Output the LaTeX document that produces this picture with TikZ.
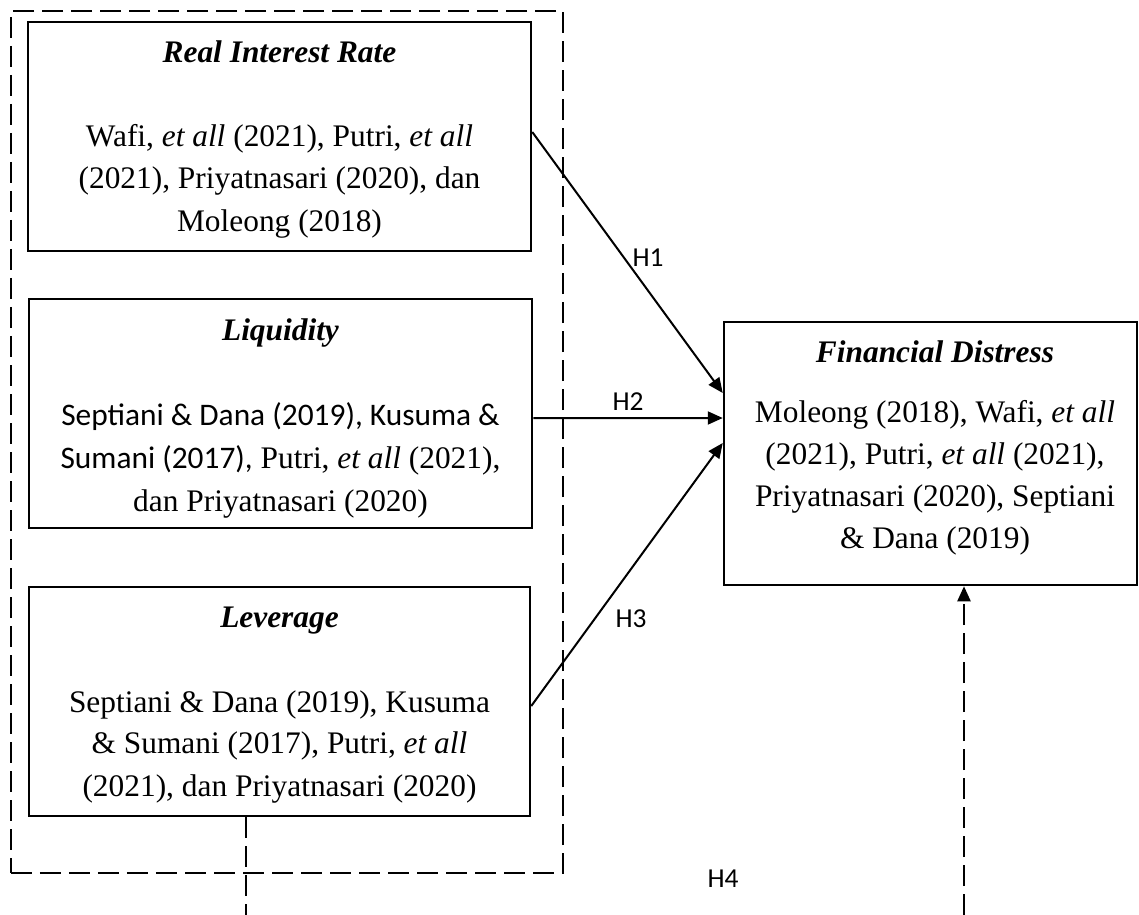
\documentclass[tikz,border=0pt]{standalone}
\usepackage{fontspec}
\setmainfont{Liberation Serif}
\newfontfamily\calfont{Carlito}
\usetikzlibrary{arrows.meta}
\tikzset{
  box/.style={draw, line width=2.5bp, inner sep=0pt, rectangle},
  txt/.style={anchor=base, inner sep=0pt, font=\fontsize{31.5}{38}\selectfont},
  ttl/.style={anchor=base, inner sep=0pt, font=\fontsize{31.5}{38}\selectfont\bfseries\itshape},
  hlab/.style={inner sep=0pt, font=\calfont\fontsize{27.5}{33}\selectfont},
  dashline/.style={line width=2.3bp, dash pattern=on 21bp off 8bp},
  conn/.style={line width=2bp, -{Triangle[length=15bp,width=13bp]}},
}
\begin{document}
\begin{tikzpicture}[x=1bp,y=-1bp]
\useasboundingbox (0,0) rectangle (1139,915);
% outer dashed group
\node[draw, dashline, inner sep=0pt, minimum width=552bp, minimum height=862bp] (grp) at (287,442) {};
% boxes
\node[box, minimum width=503bp, minimum height=229bp] (rir) at (279.5,136.5) {};
\node[box, minimum width=503bp, minimum height=229bp] (liq) at (280.5,413.5) {};
\node[box, minimum width=501bp, minimum height=229bp] (lev) at (279.5,701.5) {};
\node[box, minimum width=413bp, minimum height=263bp] (fd) at (930.5,453.5) {};
% Real Interest Rate text
\node[ttl] (rirT) at (279.5,62) {Real Interest Rate};
\node[txt] (rir1) at (279.5,146) {Wafi, \textit{et all} (2021), Putri, \textit{et all}};
\node[txt] (rir2) at (279.5,188.5) {(2021), Priyatnasari (2020), dan};
\node[txt] (rir3) at (279.5,231) {Moleong (2018)};
% Liquidity text
\node[ttl] (liqT) at (280.5,340) {Liquidity};
\node[txt] (liq1) at (280.5,425) {\calfont Septiani \& Dana (2019), Kusuma \&};
\node[txt] (liq2) at (280.5,468) {{\calfont Sumani (2017),} Putri, \textit{et all} (2021),};
\node[txt] (liq3) at (280.5,511.5) {dan Priyatnasari (2020)};
% Leverage text
\node[ttl] (levT) at (279.5,627) {Leverage};
\node[txt] (lev1) at (279.5,712) {Septiani \& Dana (2019), Kusuma};
\node[txt] (lev2) at (279.5,753.5) {\& Sumani (2017), Putri, \textit{et all}};
\node[txt] (lev3) at (279.5,796) {(2021), dan Priyatnasari (2020)};
% Financial Distress text
\node[ttl] (fdT) at (935,362) {Financial Distress};
\node[txt] (fd1) at (935,422) {Moleong (2018), Wafi, \textit{et all}};
\node[txt] (fd2) at (935,464) {(2021), Putri, \textit{et all} (2021),};
\node[txt] (fd3) at (935,506.5) {Priyatnasari (2020), Septiani};
\node[txt] (fd4) at (935,548) {\& Dana (2019)};
% connectors
\draw[conn] ([yshift=4.5bp]rir.east) -- ([yshift=60.5bp]fd.west);
\draw[conn] ([yshift=-4.5bp]liq.east) -- ([yshift=35.5bp]fd.west);
\draw[conn] ([yshift=-4.5bp]lev.east) -- ([yshift=10.5bp]fd.west);
\coordinate (h4s) at (246,915);
\coordinate (h4e) at (964,915);
\draw[dashline] (lev.south -| h4s) -- (h4s);
\draw[dashline, -{Triangle[length=15bp,width=13bp]}] (h4e) -- (h4e |- fd.south);
% labels
\node[hlab] (H1) at (648,258) {H1};
\node[hlab] (H2) at (628,402) {H2};
\node[hlab] (H3) at (631,619) {H3};
\node[hlab] (H4) at (723,879) {H4};
\end{tikzpicture}
\end{document}
